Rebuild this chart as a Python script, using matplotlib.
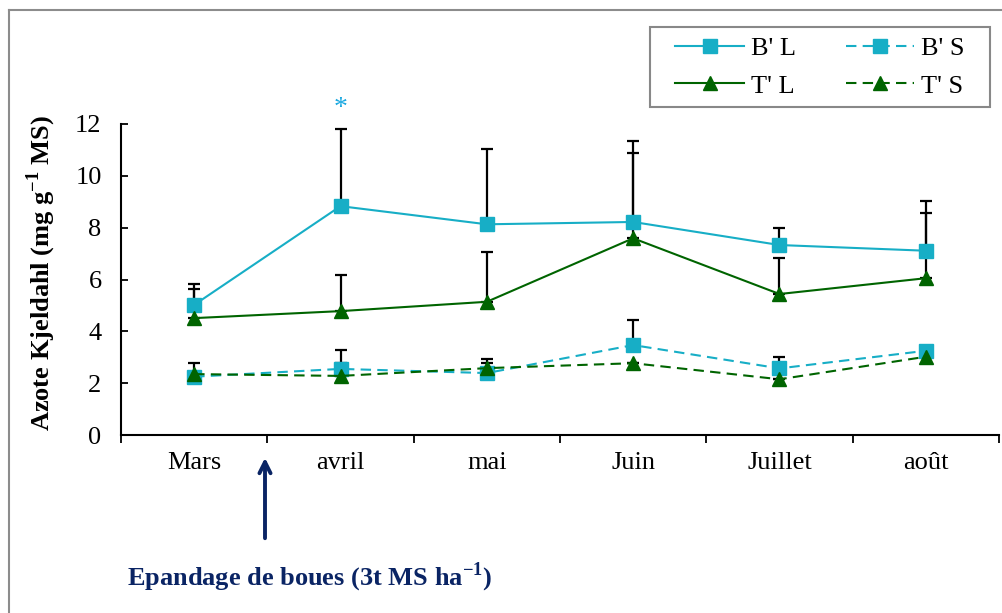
import matplotlib
matplotlib.use("Agg")
import matplotlib.pyplot as plt
from matplotlib.lines import Line2D
from matplotlib.patches import Rectangle
import numpy as np

plt.rcParams['font.family'] = ['Liberation Serif', 'DejaVu Serif']
plt.rcParams['mathtext.fontset'] = 'custom'
plt.rcParams['mathtext.rm'] = 'Liberation Serif'
plt.rcParams['mathtext.bf'] = 'Liberation Serif:bold'

months = ['Mars', 'avril', 'mai', 'Juin', 'Juillet', 'août']
bl = [5.02, 8.83, 8.13, 8.22, 7.33, 7.11]
bl_err = [0.82, 2.97, 2.89, 3.14, 0.64, 1.90]
bs = [2.25, 2.55, 2.39, 3.47, 2.57, 3.25]
bs_err = [0.0, 0.73, 0.53, 0.97, 0.44, 0.0]
tl = [4.51, 4.78, 5.14, 7.59, 5.44, 6.05]
tl_err = [1.13, 1.39, 1.92, 3.31, 1.40, 2.53]
ts = [2.35, 2.28, 2.58, 2.77, 2.15, 3.02]
ts_err = [0.43, 0.50, 0.19, 0.0, 0.0, 0.0]
yticks = [0, 2, 4, 6, 8, 10, 12]

cB = '#17AEC6'
cT = '#006400'
navy = '#0A2464'
FS = 19

W, H = 1002, 613
fig = plt.figure(figsize=(W / 100, H / 100), dpi=100)
ax = fig.add_axes([121 / W, 1 - 435 / H, (999 - 121) / W, (435 - 124) / H])

x = np.arange(len(months))

series = [
    (bl, bl_err, cB, 's', '-', "B' L"),
    (bs, bs_err, cB, 's', (0, (5, 3)), "B' S"),
    (tl, tl_err, cT, '^', '-', "T' L"),
    (ts, ts_err, cT, '^', (0, (5, 3)), "T' S"),
]

handles = {}
for vals, err, col, mk, ls, lab in series:
    ax.errorbar(x, vals, yerr=[np.zeros(len(vals)), err], fmt='none',
                ecolor='black', elinewidth=1.6, capsize=4.5, capthick=1.6,
                zorder=2)
for vals, err, col, mk, ls, lab in series:
    h, = ax.plot(x, vals, color=col, linestyle=ls, linewidth=1.5,
                 marker=mk, markersize=10 if mk == 's' else 10.5,
                 markerfacecolor=col, markeredgecolor=col, zorder=3,
                 label=lab)
    handles[lab] = h

ax.text(1, 12.6, '*', color='#1AA8E0', fontsize=20, ha='center',
        va='center', clip_on=False)

ax.set_xlim(-0.5, 5.5)
ax.set_ylim(0, 12)
ax.set_yticks(yticks)
ax.set_yticklabels([str(v) for v in yticks], fontsize=FS)
ax.tick_params(axis='y', direction='in', length=5, width=1.3, pad=14)
ax.set_xticks(np.arange(-0.5, 6, 1))
ax.set_xticklabels([])
ax.tick_params(axis='x', which='major', direction='out', length=6, width=1.3)
ax.set_xticks(x, minor=True)
ax.set_xticklabels(months, minor=True, fontsize=FS)
ax.tick_params(axis='x', which='minor', length=0, pad=12)
for s in ['top', 'right']:
    ax.spines[s].set_visible(False)
for s in ['left', 'bottom']:
    ax.spines[s].set_linewidth(1.5)

ax.set_ylabel(r'Azote Kjeldahl (mg g$^{\mathbf{-1}}$ MS)', fontsize=FS,
              fontweight='bold', labelpad=12)
ax.yaxis.label.set_y(0.522)

# legend frame drawn separately
fig.add_artist(Rectangle((650 / W, 1 - 107 / H), 340 / W, 80 / H,
                         transform=fig.transFigure, facecolor='white',
                         edgecolor='#888888', lw=1.5, zorder=4))
order = ["B' L", "T' L", "B' S", "T' S"]
leg = fig.legend([handles[k] for k in order], order, ncol=2,
                 loc='center', bbox_to_anchor=(820 / W, 1 - 67 / H),
                 borderaxespad=0, fontsize=FS, frameon=False,
                 handlelength=2.6, columnspacing=1.9,
                 borderpad=0.0, labelspacing=0.55, handletextpad=0.25)
leg.set_zorder(5)

# arrow for sludge spreading
ax.annotate('', xy=(265 / W, 1 - 455 / H), xycoords='figure fraction',
            xytext=(265 / W, 1 - 541 / H), textcoords='figure fraction',
            arrowprops=dict(arrowstyle='->,head_length=0.8,head_width=0.4',
                            color=navy, lw=2.8), annotation_clip=False)
fig.text(127 / W, 1 - 577 / H, r'Epandage de boues (3t MS ha$^{\mathbf{-1}}$)',
         color=navy, fontsize=FS, fontweight='bold', ha='left', va='center')

# figure frame
fig.add_artist(Line2D([8.5 / W, 8.5 / W], [0, 1 - 10 / H], color='#8c8c8c',
                      lw=1.5, transform=fig.transFigure))
fig.add_artist(Line2D([8.5 / W, 1], [1 - 10 / H, 1 - 10 / H], color='#8c8c8c',
                      lw=1.5, transform=fig.transFigure))

fig.savefig('out.png', dpi=100)
